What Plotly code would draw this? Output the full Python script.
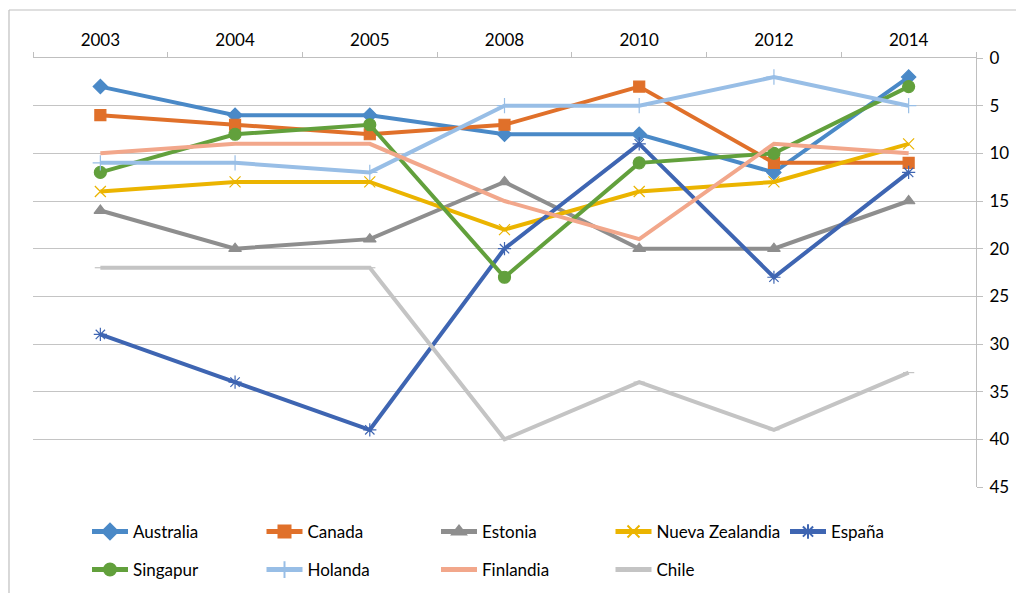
import plotly.graph_objects as go

years = ["2003", "2004", "2005", "2008", "2010", "2012", "2014"]

australia = [3, 6, 6, 8, 8, 12, 2]
canada = [6, 7, 8, 7, 3, 11, 11]
estonia = [16, 20, 19, 13, 20, 20, 15]
nueva_zelandia = [14, 13, 13, 18, 14, 13, 9]
espana = [29, 34, 39, 20, 9, 23, 12]
singapur = [12, 8, 7, 23, 11, 10, 3]
holanda = [11, 11, 12, 5, 5, 2, 5]
finlandia = [10, 9, 9, 15, 19, 9, 10]
chile = [22, 22, 22, 40, 34, 39, 33]

series = [
    ("Australia", australia, "#4A89C7", "diamond", 11),
    ("Canada", canada, "#E0702A", "square", 11),
    ("Estonia", estonia, "#8E8E8E", "triangle-up", 11),
    ("Nueva Zealandia", nueva_zelandia, "#EBB400", "x-thin-open", 11),
    ("España", espana, "#3E65B2", "asterisk-open", 11),
    ("Singapur", singapur, "#62A03C", "circle", 12),
    ("Holanda", holanda, "#98BEE6", "cross-thin-open", 11),
    ("Finlandia", finlandia, "#F2A78B", None, 0),
    ("Chile", chile, "#C4C4C4", "line-ew-open", 8),
]

font_family = "Lato, 'Open Sans', sans-serif"
W0, W = 33, 943
H0, H = 487, 429

# legend text start positions (px) and row centres (px)
row_y = [532, 570]
col_text_x = [133, 307.5, 482, 656.5, 831]

fig = go.Figure()
legends = {}
for i, (name, vals, color, sym, size) in enumerate(series):
    lg = "legend" if i == 0 else f"legend{i + 1}"
    row, col = divmod(i, 5)
    legends[lg] = dict(
        orientation="h", xanchor="left", yanchor="middle",
        x=(col_text_x[col] - 46 - W0) / W, y=(H0 - row_y[row]) / H,
        font=dict(size=17, color="#000000"), itemwidth=36,
        itemsizing="constant", bgcolor="rgba(0,0,0,0)")
    if sym is None:
        fig.add_trace(go.Scatter(x=years, y=vals, name=name, mode="lines",
                                 legend=lg, line=dict(color=color, width=4)))
    else:
        fig.add_trace(go.Scatter(
            x=years, y=vals, name=name, mode="lines+markers", legend=lg,
            line=dict(color=color, width=4),
            marker=dict(symbol=sym, size=size, color=color,
                        line=dict(color=color, width=1.2))))

fig.update_layout(
    width=1016, height=593,
    margin=dict(l=33, r=40, t=58, b=106, autoexpand=False),
    paper_bgcolor="white", plot_bgcolor="white",
    font=dict(family=font_family, size=17, color="#000000"),
    showlegend=True,
    xaxis=dict(
        type="category", side="top", showgrid=False, automargin=False,
        range=[-0.5, len(years) - 0.5],
        showline=True, linecolor="#BFBFBF", linewidth=1,
        ticks="outside", tickson="boundaries", ticklen=5, tickcolor="#BFBFBF",
        ticklabelstandoff=4,
        tickfont=dict(size=17), zeroline=False,
    ),
    yaxis=dict(
        side="right", range=[45, 0], dtick=5, tick0=0, automargin=False,
        showgrid=True, gridcolor="#C4C4C4", gridwidth=1,
        showline=True, linecolor="#BFBFBF", linewidth=1,
        ticks="outside", ticklen=6, tickcolor="#BFBFBF",
        ticklabelstandoff=3,
        tickfont=dict(size=17), zeroline=False,
    ),
    **legends,
)

# Chart-area frame (top and left edges visible)
fig.add_shape(type="line", xref="paper", yref="paper",
              x0=(9 - W0) / W, x1=(1016 - W0) / W,
              y0=(H0 - 10) / H, y1=(H0 - 10) / H,
              line=dict(color="#BFBFBF", width=1.2))
fig.add_shape(type="line", xref="paper", yref="paper",
              x0=(9 - W0) / W, x1=(9 - W0) / W,
              y0=(H0 - 10) / H, y1=(H0 - 593) / H,
              line=dict(color="#BFBFBF", width=1.2))

fig.write_html("out.html",
               config={"displayModeBar": False},
               post_script="document.body.style.margin='0';"
                           "document.body.style.overflow='hidden';")
